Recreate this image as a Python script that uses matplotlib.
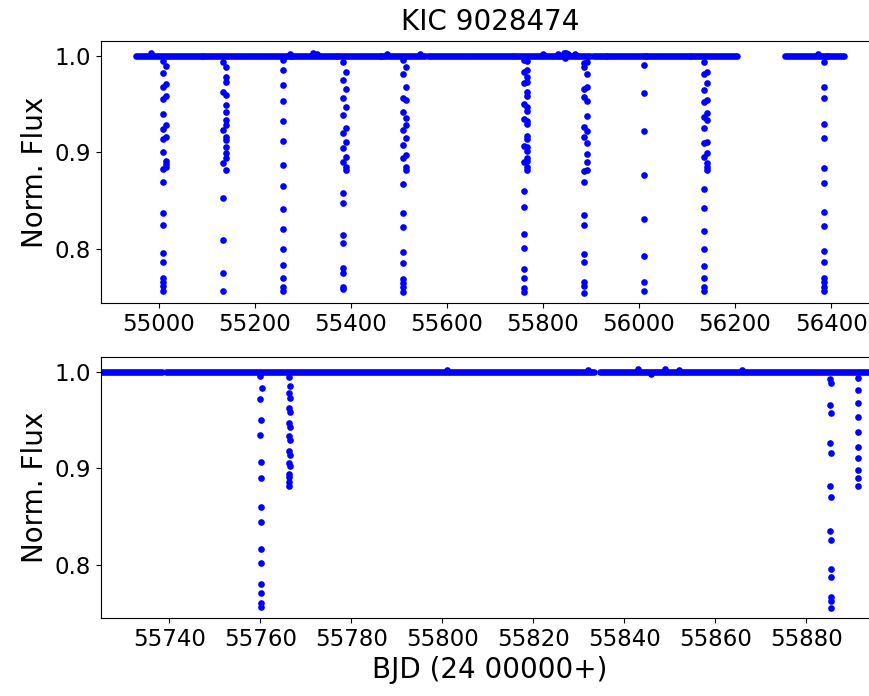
import matplotlib
matplotlib.use("Agg")
import matplotlib.pyplot as plt

# continuous coverage of the light curve (start, end), flux ~ 1.0 outside eclipses
seg_start = [54953.5, 55002.5, 55093.2, 55184.9, 55276.0, 55372.5, 55463.1, 55561.0,
             55641.0, 55739.3, 55834.7, 55904.5, 55932.9, 56015.2, 56107.6, 56304.6, 56391.7]
seg_end = [54997.5, 55091.0, 55182.5, 55275.0, 55371.0, 55462.3, 55555.0, 55637.5,
           55738.4, 55833.3, 55899.0, 55930.8, 56014.0, 56105.6, 56203.8, 56390.5, 56426.0]

# a few scattered out-of-eclipse points
out_t = [54984, 55273, 55322, 55330, 55475, 55544, 55801, 55832, 55843, 55846, 55849, 55852, 55866, 56372]
out_f = [1.0025, 1.002, 1.0025, 1.002, 1.0015, 1.002, 1.0015, 1.002, 1.0025, 0.998, 1.0025, 1.002, 1.0015, 1.002]

# primary eclipses seen only on the long time scale (all points at mid-eclipse time)
prim_mid = [55008.4, 55133.6, 55258.9, 55384.1, 55509.4, 56010.4, 56135.7, 56386.2]
prim_flux = [
    [0.9944, 0.9824, 0.968, 0.955, 0.9395, 0.9247, 0.9137, 0.900, 0.883,
     0.8698, 0.8371, 0.8251, 0.7965, 0.7872, 0.7701, 0.7666, 0.7621, 0.757],
    [0.9936, 0.9627, 0.9232, 0.8887, 0.8526, 0.8096, 0.7759, 0.7573],
    [0.996, 0.9857, 0.9702, 0.9534, 0.9324, 0.9118, 0.887, 0.8653, 0.8413,
     0.8206, 0.8003, 0.7838, 0.770, 0.7614, 0.7573],
    [0.9936, 0.9747, 0.9558, 0.9387, 0.9197, 0.9042, 0.8904, 0.8578, 0.8481,
     0.8148, 0.8062, 0.7804, 0.7752, 0.7608, 0.7587],
    [0.9953, 0.9816, 0.9558, 0.9421, 0.9232, 0.9077, 0.8939, 0.8674, 0.8378,
     0.8227, 0.7976, 0.7855, 0.769, 0.7649, 0.7608, 0.7556],
    [0.9909, 0.9616, 0.9221, 0.8763, 0.8313, 0.7927, 0.7666, 0.7573],
    [0.9936, 0.9816, 0.9644, 0.9524, 0.937, 0.9249, 0.9094, 0.8956, 0.8626,
     0.8423, 0.8185, 0.8007, 0.7824, 0.7705, 0.7614, 0.7573],
    [0.9936, 0.9678, 0.9558, 0.929, 0.9145, 0.8839, 0.8688, 0.8385, 0.824,
     0.7982, 0.7869, 0.770, 0.7666, 0.7614, 0.757],
]

# secondary eclipses seen only on the long time scale
sec_mid = [55014.6, 55139.8, 55390.3, 55515.6, 56141.9]
sec_flux = [
    [0.9892, 0.9703, 0.9583, 0.9282, 0.9165, 0.8913, 0.888, 0.885],
    [0.9885, 0.9781, 0.973, 0.9593, 0.949, 0.9421, 0.9335, 0.9283, 0.9163,
     0.9128, 0.9053, 0.8991, 0.8939, 0.8818],
    [0.9833, 0.9661, 0.9473, 0.9249, 0.9111, 0.8956, 0.8818, 0.885],
    [0.9885, 0.9678, 0.9541, 0.9352, 0.9283, 0.9146, 0.8973, 0.8853, 0.8818],
    [0.9833, 0.9713, 0.9541, 0.9404, 0.9335, 0.9111, 0.8991, 0.8887, 0.8853, 0.882],
]

# eclipses inside the zoomed window, with individual times
p6_t = [55760.01, 55760.03, 55760.05, 55760.07, 55760.09, 55760.11, 55760.13, 55760.15,
        55760.17, 55760.19, 55760.21, 55760.23, 55760.25, 55760.27, 55760.29]
p6_f = [0.9956, 0.9721, 0.9341, 0.8901, 0.8438, 0.8014, 0.7707, 0.7563,
        0.7598, 0.7800, 0.8162, 0.8597, 0.9066, 0.9501, 0.9827]
s6_t = [55766.22, 55766.24, 55766.26, 55766.28, 55766.30, 55766.32, 55766.34, 55766.36, 55766.38,
        55766.40, 55766.42, 55766.44, 55766.46, 55766.48, 55766.50, 55766.52, 55766.54, 55766.56]
s6_f = [0.9941, 0.9776, 0.962, 0.9465, 0.9328, 0.9173, 0.9052, 0.8942, 0.8852,
        0.8818, 0.8907, 0.9018, 0.9139, 0.9294, 0.9431, 0.9586, 0.9724, 0.9852]
p7_t = [55885.26, 55885.28, 55885.30, 55885.32, 55885.34, 55885.36, 55885.38, 55885.40,
        55885.42, 55885.44, 55885.46, 55885.48, 55885.50, 55885.52, 55885.54]
p7_f = [0.9921, 0.9655, 0.9259, 0.8811, 0.8349, 0.7956, 0.7666, 0.7546,
        0.7621, 0.7873, 0.8252, 0.8697, 0.9155, 0.9569, 0.9879]
s7_t = [55891.31, 55891.33, 55891.35, 55891.37, 55891.39, 55891.41, 55891.43, 55891.45, 55891.47, 55891.49]
s7_f = [0.9931, 0.9679, 0.9373, 0.9100, 0.8897, 0.8818, 0.8983, 0.9224, 0.9528, 0.9810]

MS = 4.8


def draw(ax):
    for t0, t1 in zip(seg_start, seg_end):
        ax.plot([t0, t1], [1.0, 1.0], color="b", lw=MS, solid_capstyle="round")
    ax.plot(out_t, out_f, "o", color="b", ms=MS, mew=0)
    for mid, fl in zip(prim_mid + sec_mid, prim_flux + sec_flux):
        ax.plot([mid] * len(fl), fl, "o", color="b", ms=MS, mew=0)
    for t, f in [(p6_t, p6_f), (s6_t, s6_f), (p7_t, p7_f), (s7_t, s7_f)]:
        ax.plot(t, f, "o", color="b", ms=MS, mew=0)
    ax.set_ylabel("Norm. Flux", fontsize=20)
    ax.set_yticks([0.8, 0.9, 1.0])
    ax.tick_params(labelsize=16.5)


fig = plt.figure(figsize=(8.7, 6.96), dpi=100)
ax1 = fig.add_axes([0.1161, 0.5647, 0.8942, 0.3764])
ax2 = fig.add_axes([0.1161, 0.112, 0.8942, 0.375])

draw(ax1)
ax1.set_title("KIC 9028474", fontsize=20, pad=8)
ax1.set_xticks([55000, 55200, 55400, 55600, 55800, 56000, 56200, 56400])
ax1.set_xticklabels(["55000", "55200", "55400", "55600", "55800", "56000", "56200", "56400"])

draw(ax2)
ax2.set_xlim(55725, 55896)
ax2.set_xticks([55740, 55760, 55780, 55800, 55820, 55840, 55860, 55880])
ax2.set_xticklabels(["55740", "55760", "55780", "55800", "55820", "55840", "55860", "55880"])
ax2.set_xlabel("BJD (24 00000+)", fontsize=20)

for ax in (ax1, ax2):
    ax.set_ylim(0.7445, 1.0152)

fig.savefig("out.png", dpi=100)
